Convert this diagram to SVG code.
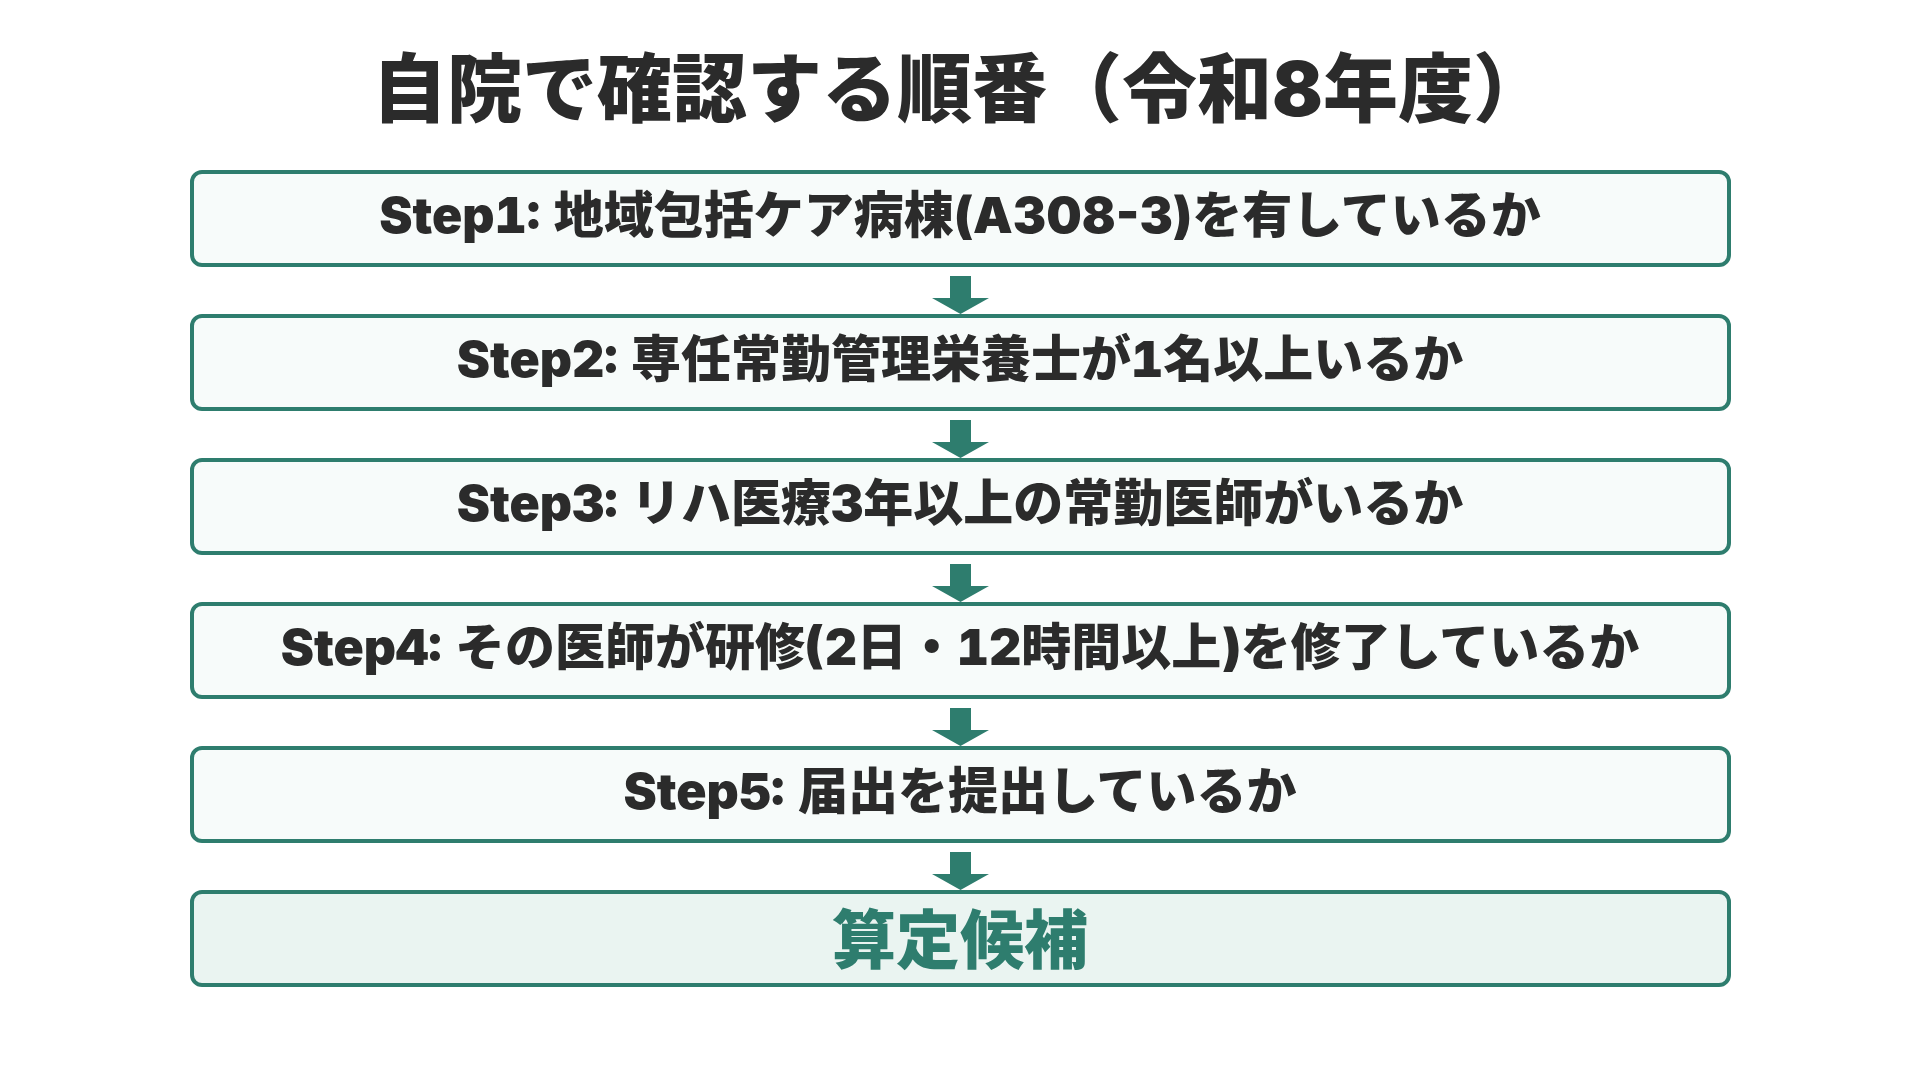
<svg xmlns="http://www.w3.org/2000/svg" width="1920" height="1080" viewBox="0 0 1920 1080">
  <defs>
    <style>
      .bg { fill: #ffffff; }
      .box { fill: #F7FBFA; stroke: #2E7D6E; stroke-width: 4; }
      .box-final { fill: #EAF4F1; stroke: #2E7D6E; stroke-width: 4; }
      .title { font-family: Inter, "Noto Sans CJK JP", sans-serif; font-weight: 900; font-size: 75px; fill: #2B2B2B; text-anchor: middle; }
      .step { font-family: Inter, "Noto Sans CJK JP", sans-serif; font-weight: 900; font-size: 50px; fill: #2B2B2B; text-anchor: middle; font-variant-numeric: tabular-nums; }
      .plain { font-variant-numeric: normal; }
      .final { font-family: "Noto Sans CJK JP", sans-serif; font-weight: 900; font-size: 64px; fill: #2E7D6E; text-anchor: middle; }
      .arrow { fill: #2E7D6E; }
    </style>
  </defs>
  <rect class="bg" x="0" y="0" width="1920" height="1080"/>

  <g id="title">
    <text class="title" x="960" y="116">自院で確認する順番（令和8年度）</text>
  </g>

  <g id="connectors">
    <polygon class="arrow" points="950,276 971,276 971,298 989,298 960.5,314 932,298 950,298"/>
    <polygon class="arrow" points="950,420 971,420 971,442 989,442 960.5,458 932,442 950,442"/>
    <polygon class="arrow" points="950,564 971,564 971,586 989,586 960.5,602 932,586 950,586"/>
    <polygon class="arrow" points="950,708 971,708 971,730 989,730 960.5,746 932,730 950,730"/>
    <polygon class="arrow" points="950,852 971,852 971,874 989,874 960.5,890 932,874 950,874"/>
  </g>

  <g id="step1">
    <rect class="box" x="192" y="172" width="1537" height="93" rx="10"/>
    <text class="step" x="960" y="233">Step1: 地域包括ケア病棟<tspan class="plain">(A308-3)</tspan>を有しているか</text>
  </g>
  <g id="step2">
    <rect class="box" x="192" y="316" width="1537" height="93" rx="10"/>
    <text class="step" x="960" y="377">Step2: 専任常勤管理栄養士が1名以上いるか</text>
  </g>
  <g id="step3">
    <rect class="box" x="192" y="460" width="1537" height="93" rx="10"/>
    <text class="step" x="960" y="521">Step3: リハ医療3年以上の常勤医師がいるか</text>
  </g>
  <g id="step4">
    <rect class="box" x="192" y="604" width="1537" height="93" rx="10"/>
    <text class="step" x="960" y="665">Step4: その医師が研修(2日・12時間以上)を修了しているか</text>
  </g>
  <g id="step5">
    <rect class="box" x="192" y="748" width="1537" height="93" rx="10"/>
    <text class="step" x="960" y="809">Step5: 届出を提出しているか</text>
  </g>
  <g id="result">
    <rect class="box-final" x="192" y="892" width="1537" height="93" rx="10"/>
    <text class="final" x="960" y="963">算定候補</text>
  </g>
</svg>
